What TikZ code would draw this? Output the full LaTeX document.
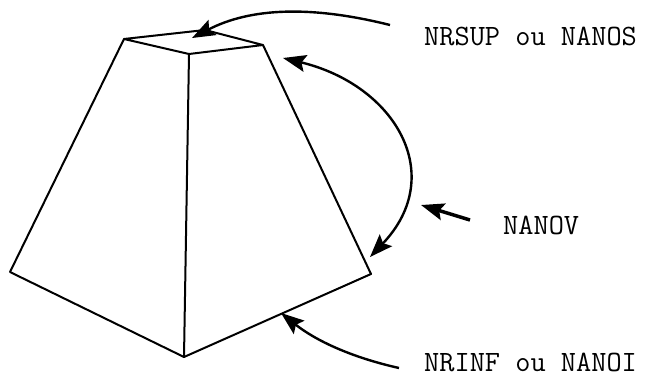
\documentclass[tikz,border=0pt]{standalone}
\usepackage{tikz}
\usetikzlibrary{arrows.meta}
\usetikzlibrary{positioning}

\tikzset{
    edgeline/.style={line width=2pt, line cap=round, line join=round},
    curvehead/.tip={Stealth[length=23pt,width=17pt,inset=4pt]},
    curvearrow/.style={line width=2.4pt, -curvehead},
    codelabel/.style={font=\ttfamily\fontsize{29.5}{30}\selectfont, anchor=west, inner sep=0pt}
}

\begin{document}
\begin{tikzpicture}[x=1pt,y=-1pt]
    \useasboundingbox (0,0) rectangle (645,376);

    % corners of the solid
    \coordinate (topleft) at (124,39);
    \coordinate (topback) at (205,30);
    \coordinate (topright) at (263,45);
    \coordinate (topfront) at (189,54);
    \coordinate (baseleft) at (10,272);
    \coordinate (basefront) at (184,357);
    \coordinate (baseright) at (371,274);

    % labels
    \node[codelabel] (nrsup) at (424,36) {NRSUP ou NANOS};
    \node[codelabel] (nanov) at (503,225) {NANOV};
    \node[codelabel] (nrinf) at (424,362) {NRINF ou NANOI};

    % free ends of the arrows
    \coordinate (supstart) at (390,25);
    \coordinate (suptip) at (192,38);
    \coordinate (ovtop) at (283,58);
    \coordinate (ovbottom) at (370,257);
    \coordinate (shortstart) at (470,220);
    \coordinate (shorttip) at (421,205);
    \coordinate (infstart) at (399,368);
    \coordinate (inftip) at (281,313);

    \draw[edgeline] (topleft) -- (topback) -- (topright) -- (topfront) -- cycle;
    \draw[edgeline] (topleft) -- (baseleft) -- (basefront) -- (baseright) -- (topright);
    \draw[edgeline] (topfront) -- (basefront);

    \draw[curvearrow] (supstart) .. controls (310,5) and (250,8) .. (suptip);
    \draw[curvearrow, curvehead-curvehead] (ovtop) .. controls (395,85) and (448,175) .. (ovbottom);
    \draw[curvearrow, line width=3.5pt] (shortstart) -- (shorttip);
    \draw[curvearrow] (infstart) .. controls (350,357) and (315,340) .. (inftip);
\end{tikzpicture}
\end{document}
